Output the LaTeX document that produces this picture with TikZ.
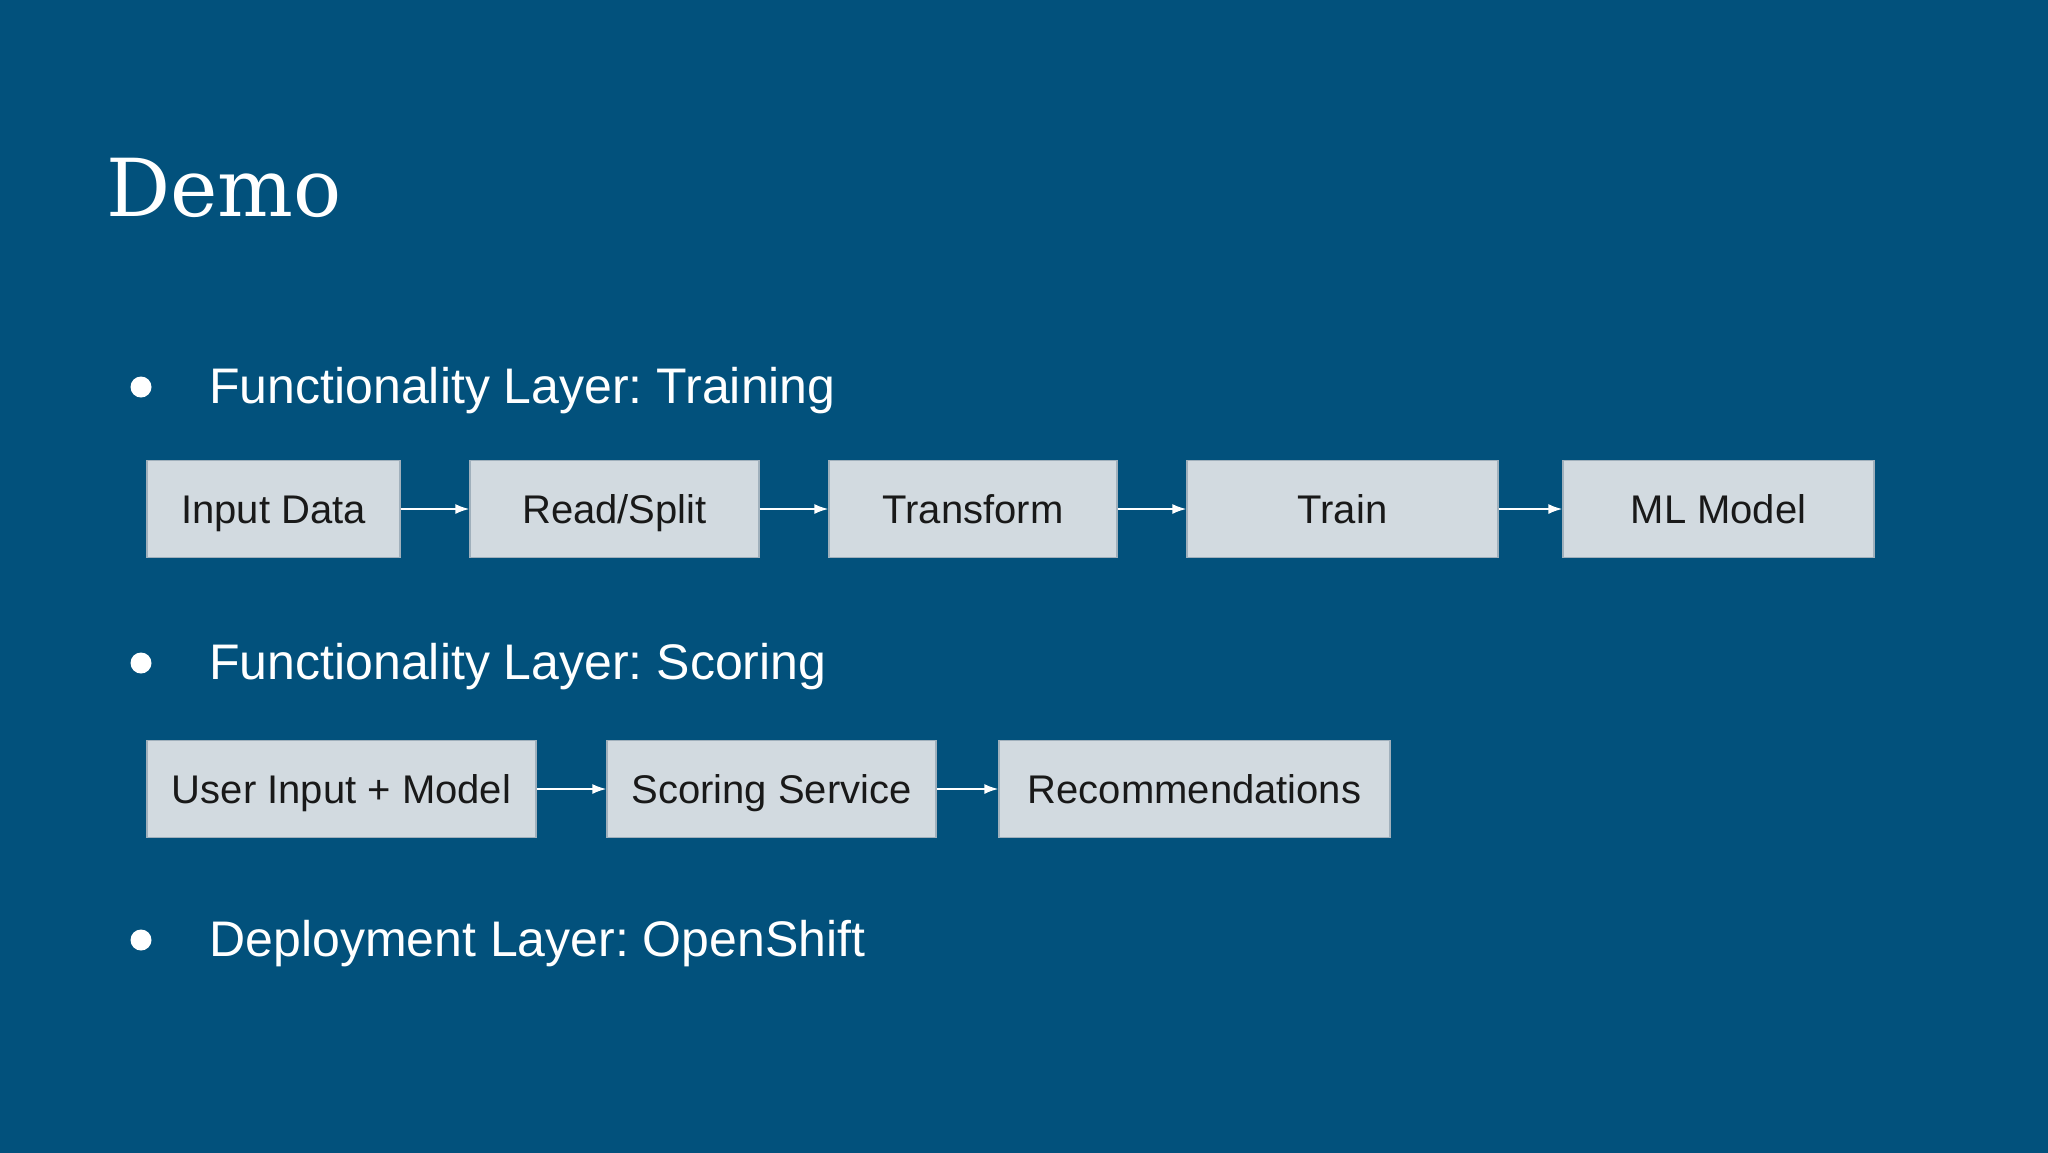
\documentclass[tikz,border=0pt]{standalone}
\usepackage{fontspec}
\setmainfont{Liberation Sans}
\newfontfamily\titlefont{DejaVu Serif}
\usepackage{tikz}
\usetikzlibrary{arrows.meta}
\definecolor{slidebg}{RGB}{2,81,124}
\definecolor{boxfill}{RGB}{210,218,224}
\definecolor{boxline}{RGB}{160,176,188}
\tikzset{
  stagebox/.style={draw=boxline,line width=0.6pt,fill=boxfill,text=black!90,inner sep=0pt,text height=14.4pt,text depth=0pt,font=\fontsize{20}{24}\selectfont},
  flow/.style={draw=white,line width=1pt,-{Latex[length=7pt,width=5pt]}},
  bulletdot/.style={circle,fill=white,inner sep=0pt,minimum size=10.5pt},
  bullettext/.style={anchor=base west,text=white,inner sep=0pt,font=\fontsize{25}{30}\selectfont}
}
\frenchspacing
\begin{document}
\begin{tikzpicture}[x=0.5pt,y=0.5pt,yscale=-1,xscale=1]
\useasboundingbox (0,0) rectangle (2048,1152);
\fill [slidebg] (-6,-6) rectangle (2054,1158);
% title
\draw (106,216) node [anchor=base west] [inner sep=0pt] [text=white] {\titlefont\fontsize{40}{48}\selectfont Demo} ;
% bullets
\draw (141,387) node [bulletdot] (b1) {} ;
\draw (141,663) node [bulletdot] (b2) {} ;
\draw (141,940) node [bulletdot] (b3) {} ;
\draw (209,403) node [bullettext] (t1) {Functionality Layer: Training} ;
\draw (209,679) node [bullettext] (t2) {Functionality Layer: Scoring} ;
\draw (209,956) node [bullettext] (t3) {Deployment Layer: OpenShift} ;
% training row
\draw (273.5,509) node [stagebox,minimum width=126.5pt,minimum height=48.5pt] (input) {Input Data} ;
\draw (614.5,509) node [stagebox,minimum width=144.5pt,minimum height=48.5pt] (split) {Read/Split} ;
\draw (973,509) node [stagebox,minimum width=144pt,minimum height=48.5pt] (transform) {Transform} ;
\draw (1342.5,509) node [stagebox,minimum width=155.5pt,minimum height=48.5pt] (train) {Train} ;
\draw (1718.5,509) node [stagebox,minimum width=155.5pt,minimum height=48.5pt] (model) {ML Model} ;
\draw [flow] (input) -- (split) ;
\draw [flow] (split) -- (transform) ;
\draw [flow] (transform) -- (train) ;
\draw [flow] (train) -- (model) ;
% scoring row
\draw (341.5,789) node [stagebox,minimum width=194.5pt,minimum height=48.5pt] (userin) {User Input + Model} ;
\draw (771.5,789) node [stagebox,minimum width=164.5pt,minimum height=48.5pt] (scoring) {Scoring Service} ;
\draw (1194.5,789) node [stagebox,minimum width=195.5pt,minimum height=48.5pt] (recs) {Recommendations} ;
\draw [flow] (userin) -- (scoring) ;
\draw [flow] (scoring) -- (recs) ;
\end{tikzpicture}
\end{document}
